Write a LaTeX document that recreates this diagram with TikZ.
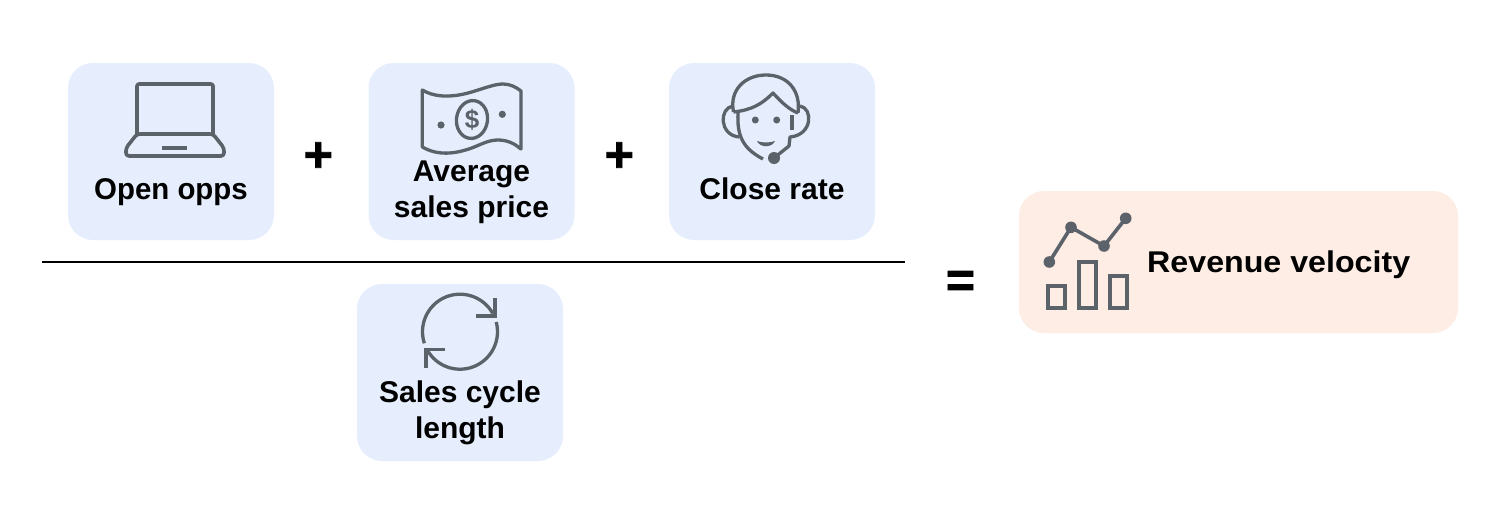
\documentclass[tikz,border=0pt]{standalone}
\usepackage{fontspec}
\setmainfont{Liberation Sans}
\newfontfamily\opfont[FakeBold=1.5]{Liberation Sans Bold}
\definecolor{boxblue}{HTML}{E6EEFD}
\definecolor{boxpeach}{HTML}{FDEDE5}
\definecolor{icongray}{HTML}{5C6269}
\tikzset{
  tile/.style={draw=none,fill=boxblue,rounded corners=25pt,inner sep=0pt,minimum width=206pt,minimum height=177pt},
  resulttile/.style={draw=none,fill=boxpeach,rounded corners=25pt,inner sep=0pt,minimum width=439pt,minimum height=142pt},
  lbl/.style={inner sep=0pt,align=center,font=\fontsize{30}{36}\selectfont\bfseries,text=black},
  op/.style={inner sep=0pt,font=\fontsize{50}{50}\selectfont\opfont,text=black},
  ic/.style={draw=icongray,line width=3.6pt,line join=round,line cap=round,fill=none},
  thin ic/.style={draw=icongray,line width=3.3pt,line join=round,fill=none},
  bar ic/.style={draw=icongray,line width=3.8pt,fill=none},
  blob/.style={fill=icongray,draw=none}
}
\begin{document}
\begin{tikzpicture}[x=1pt,y=-1pt]
\useasboundingbox (0,0) rectangle (1502,514);
\fill[white] (0,0) rectangle (1502,514);
% tiles
\node[tile] (opps) at (171,151.5) {};
\node[tile] (price) at (471.5,151.5) {};
\node[tile] (close) at (772,151.5) {};
\node[tile] (cycle) at (460,372.5) {};
\node[resulttile] (rev) at (1238.5,262) {};
% labels
\node[lbl] (oppsl) at (171,192) {\scalebox{0.98}[1]{Open opps}};
\node[lbl] (pricel) at (471.5,192) {Average\\sales price};
\node[lbl] (closel) at (772,189) {Close rate};
\node[lbl] (cyclel) at (460,413) {Sales cycle\\length};
\node[lbl,anchor=west] (revl) at (1147,265) {\scalebox{1.073}[1]{Revenue velocity}};
\node[op] (plusa) at (318.3,157) {+};
\node[op] (plusb) at (619.3,157) {+};
\node[op] (eq) at (960.5,284) {=};
% fraction bar
\coordinate (barl) at (42,262);
\coordinate (barr) at (905,262);
\draw[black,line width=2pt] (barl) -- (barr);
% laptop
\draw[ic,rounded corners=2pt] (137,134) -- (137,84) -- (213,84) -- (213,134);
\draw[ic,rounded corners=3pt] (137,134) -- (213,134) -- (224,148) -- (224,156) -- (126,156) -- (126,148) -- cycle;
\draw[icongray,line width=3.3pt] (162,148) -- (187,148);
% banknote
\draw[thin ic] (422.3,90) .. controls (432,96) and (448,99) .. (471.7,92)
   .. controls (485,88) and (495,84) .. (503,84)
   .. controls (510,84) and (516,87) .. (521,91) -- (521,149)
   .. controls (515,144) and (508,140) .. (498,140)
   .. controls (488,140) and (480,145) .. (471.7,148)
   .. controls (455,154) and (438,156) .. (422.3,147) -- cycle;
\draw[thin ic,rotate around={-8:(472,119.5)}] (472,119.5) ellipse (15.5 and 19);
\node[inner sep=0pt,text=icongray,font=\fontsize{26}{26}\selectfont\bfseries] (dollar) at (472,120) {\$};
\fill[blob] (441,125) circle (3.6);
\fill[blob] (502.3,114.3) circle (3.6);
% headset person
\draw[thin ic] (733.5,112) .. controls (729,90) and (745,75) .. (766,75) .. controls (788,75) and (801,91) .. (798,113);
\draw[thin ic] (733.5,112) .. controls (752,110) and (762,104) .. (773,93) .. controls (782,103) and (790,110) .. (798,113);
\draw[thin ic] (738,113) .. controls (737,135) and (742,148) .. (763,159);
\draw[thin ic] (792,115) -- (792,130);
\draw[thin ic] (733,106) .. controls (719,108) and (719,135) .. (739,137);
\draw[thin ic] (800,106) .. controls (813,108) and (813,135) .. (790,137) -- (789,146) -- (774,158);
\fill[blob] (755.3,120) circle (3.5);
\fill[blob] (776.7,120) circle (3.5);
\fill[blob] (757,141) .. controls (762,143) and (770,143) .. (775,141) .. controls (772,148) and (760,148) .. (757,141) -- cycle;
\fill[blob] (774,158) circle (6);
% cycle arrows
\draw[thin ic] plot[smooth,domain=162:331,samples=40] ({460+37.5*cos(\x)},{331.7+37.5*sin(\x)});
\draw[thin ic] plot[smooth,domain=153:-15,samples=40] ({460+37.5*cos(\x)},{331.7+37.5*sin(\x)});
\draw[thin ic,line join=miter] (495,298) -- (495,316) -- (476,316);
\draw[thin ic,line join=miter] (426,367.5) -- (426,349.5) -- (445,349.5);
% revenue chart
\draw[ic] (1049.3,262) -- (1071,227.3) -- (1104,246) -- (1125.7,218.3);
\fill[blob] (1049.3,262) circle (5.8);
\fill[blob] (1071,227.3) circle (5.8);
\fill[blob] (1104,246) circle (5.8);
\fill[blob] (1125.7,218.3) circle (5.8);
\draw[bar ic] (1047.9,285.9) rectangle (1065.1,308.1);
\draw[bar ic] (1078.9,261.9) rectangle (1096.1,308.1);
\draw[bar ic] (1109.9,275.9) rectangle (1127.1,308.1);
\end{tikzpicture}
\end{document}
